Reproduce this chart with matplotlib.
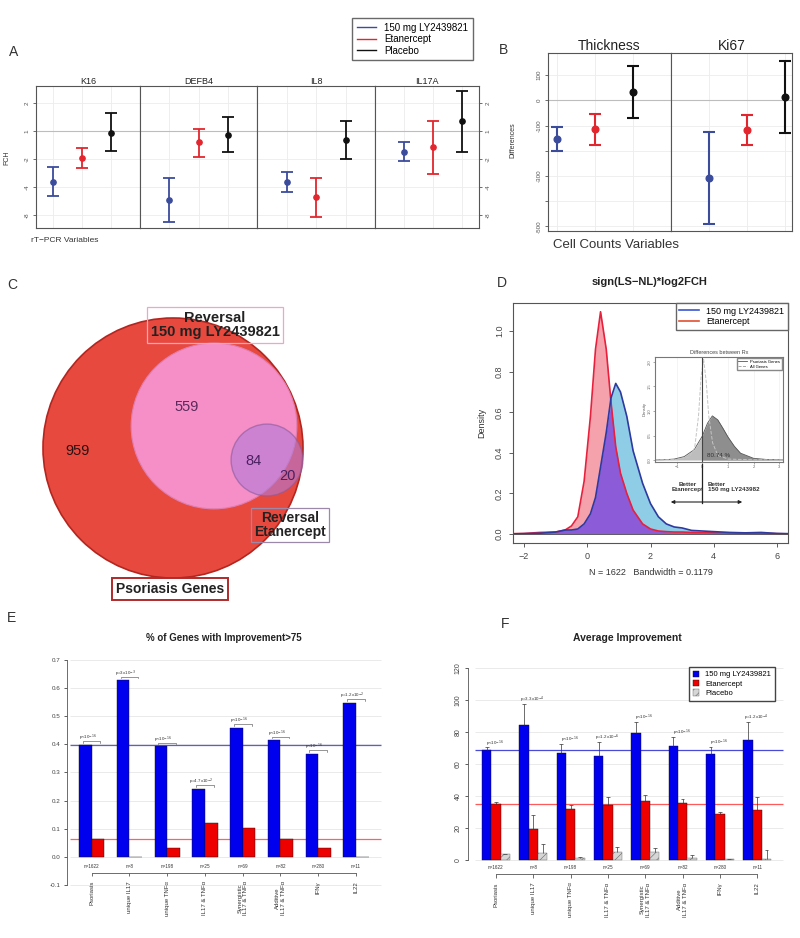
import numpy as np
import matplotlib.pyplot as plt
from matplotlib.patches import Circle, Patch, FancyArrowPatch
from matplotlib.lines import Line2D

plt.rcParams['font.family'] = ['Liberation Sans', 'DejaVu Sans']
plt.rcParams['hatch.linewidth'] = 0.4

# ---------------- data ----------------
treatments = ['150 mg LY2439821', 'Etanercept', 'Placebo']
trt_colors = ['#3b4c9c', '#e3262e', '#111111']

# A: rT-PCR (log2 scale)
pcr_genes = ['K16', 'DEFB4', 'IL8', 'IL17A']
pcr_est = [[-1.82, -0.96, -0.07], [-2.46, -0.39, -0.14], [-1.82, -2.36, -0.32], [-0.75, -0.57, 0.36]]
pcr_lo = [[-2.32, -1.32, -0.71], [-3.25, -0.93, -0.75], [-2.18, -3.07, -1.00], [-1.07, -1.54, -0.75]]
pcr_hi = [[-1.29, -0.61, 0.64], [-1.68, 0.07, 0.50], [-1.46, -1.68, 0.36], [-0.39, 0.36, 1.43]]
fch_ticks = [1, 0, -1, -2, -3]
fch_labels = ['2', '1', '-2', '-4', '-8']

# B: cell counts
cell_vars = ['Thickness', 'Ki67']
cell_est = [[-154, -115, 33], [-310, -117, 13]]
cell_lo = [[-201, -177, -69], [-493, -176, -128]]
cell_hi = [[-107, -55, 136], [-125, -58, 156]]
cell_ticks = [100, 0, -100, -200, -300, -400, -500]
cell_labels = ['100', '0', '-100', '', '-300', '', '-500']

# C: venn counts (psoriasis only, LY only, both, etanercept only)
venn_counts = [959, 559, 84, 20]

# D: densities
dens_x = [-2.3, -2.0, -1.5, -1.0, -0.7, -0.5, -0.3, -0.1, 0.1, 0.26, 0.42, 0.6, 0.75, 0.9, 1.05,
          1.25, 1.45, 1.75, 2.0, 2.25, 2.5, 2.75, 3.0, 3.3, 4.0, 4.5, 5.0, 5.5, 6.0, 6.35]
dens_eta = [0.002, 0.003, 0.008, 0.01, 0.02, 0.04, 0.085, 0.26, 0.58, 0.91, 1.095, 0.91, 0.65, 0.43, 0.30,
            0.20, 0.118, 0.05, 0.025, 0.015, 0.012, 0.01, 0.01, 0.008, 0.006, 0.005, 0.004, 0.004, 0.002, 0.001]
dens_ly = [0.001, 0.002, 0.004, 0.01, 0.02, 0.02, 0.025, 0.05, 0.10, 0.18, 0.33, 0.50, 0.67, 0.742, 0.70,
           0.58, 0.41, 0.25, 0.15, 0.085, 0.05, 0.035, 0.03, 0.018, 0.012, 0.008, 0.006, 0.008, 0.003, 0.002]

# D inset: differences between Rx
diff_x = [-1.85, -1.5, -1.1, -0.71, -0.32, 0.0, 0.2, 0.39, 0.6, 0.8, 1.0, 1.25, 1.49, 2.0, 2.5, 3.0, 3.15]
diff_psor = [0.002, 0.006, 0.02, 0.07, 0.21, 0.49, 0.75, 0.9, 0.82, 0.65, 0.47, 0.28, 0.14, 0.035, 0.012, 0.005, 0.003]
all_x = [-1.85, -1.0, -0.5, -0.3, -0.15, -0.05, 0.05, 0.15, 0.25, 0.4, 0.6, 1.0, 2.0, 3.15]
diff_all = [0.001, 0.01, 0.06, 0.25, 0.9, 1.7, 2.05, 1.6, 0.9, 0.35, 0.1, 0.02, 0.005, 0.001]

# E / F
gene_sets = ['Psoriasis', 'unique IL17', 'unique TNFα', 'IL17 & TNFα', 'Synergistic\nIL17 & TNFα',
             'Additive\nIL17 & TNFα', 'IFNγ', 'IL22']
set_n = [1622, 8, 198, 25, 69, 82, 280, 11]
pct75_ly = [0.398, 0.626, 0.392, 0.241, 0.459, 0.414, 0.366, 0.546]
pct75_eta = [0.065, 0.0, 0.033, 0.12, 0.103, 0.065, 0.033, 0.0]
pvals_e = ['p<10$^{-16}$', 'p=3x10$^{-3}$', 'p<10$^{-16}$', 'p=4.7x10$^{-2}$', 'p<10$^{-16}$',
           'p<10$^{-16}$', 'p<10$^{-16}$', 'p=1.2x10$^{-2}$']
avg_ly = [68.8, 84.4, 67.0, 64.9, 79.4, 70.9, 66.3, 75.0]
avg_ly_err = [1.5, 13.0, 5.5, 8.7, 6.6, 5.8, 4.2, 11.4]
avg_eta = [35.2, 19.1, 31.9, 34.4, 36.9, 35.6, 28.6, 31.1]
avg_eta_err = [0.8, 8.9, 2.3, 5.0, 3.5, 2.7, 1.4, 8.3]
avg_pbo = [3.5, 4.1, 1.0, 4.8, 5.2, 1.0, 0.4, 0.4]
avg_pbo_err = [0.5, 5.6, 0.8, 3.5, 2.1, 2.1, 0.5, 5.8]
pvals_f = ['p<10$^{-16}$', 'p=3.3x10$^{-4}$', 'p<10$^{-16}$', 'p=1.2x10$^{-6}$', 'p<10$^{-16}$',
           'p<10$^{-16}$', 'p<10$^{-16}$', 'p=1.2x10$^{-4}$']

# ---------------- figure ----------------
W, H = 800, 938
fig = plt.figure(figsize=(8, 9.38), dpi=100)


def fx(x):
    return x / W


def fy(y):
    return 1 - y / H


def px_axes(x0, y0, x1, y1):
    return fig.add_axes([x0 / W, 1 - y1 / H, (x1 - x0) / W, (y1 - y0) / H])


def panel_letter(x, y, s):
    fig.text(fx(x), fy(y), s, fontsize=10, color='#333333', va='center', ha='center')


def frame(ax, color='#555555'):
    for sp in ax.spines.values():
        sp.set_color(color)
        sp.set_linewidth(0.8)


# top legend
fig.legend(handles=[Line2D([], [], color=c, lw=1) for c in trt_colors], labels=treatments,
           loc='upper left', bbox_to_anchor=(fx(347), fy(13)), fontsize=7, frameon=True,
           fancybox=False, edgecolor='#444444', handlelength=2.0, borderpad=0.5, labelspacing=0.15)

# ---------------- A ----------------
panel_letter(14, 52, 'A')
a_bounds = [(36, 140, (0.43, 4.0)), (140, 257, (0, 4)), (257, 375, (0, 4)), (375, 479, (0, 3.57))]
for i, (x0, x1, xl) in enumerate(a_bounds):
    ax = px_axes(x0, 86, x1, 228)
    ax.set_xlim(*xl)
    ax.set_ylim(-3.46, 1.61)
    for p in (1, 2, 3):
        ax.axvline(p, color='#ebebeb', lw=0.6, zorder=0)
    for t in fch_ticks:
        ax.axhline(t, color='#ededed', lw=0.6, zorder=0)
    ax.axhline(0, color='#bdbdbd', lw=0.8, zorder=0)
    for j in range(3):
        e = pcr_est[i][j]
        ax.errorbar(j + 1, e, yerr=[[e - pcr_lo[i][j]], [pcr_hi[i][j] - e]], fmt='o', color=trt_colors[j],
                    ms=3.8, capsize=4, elinewidth=1.3, capthick=1.3)
    ax.set_xticks([])
    if i == 0 or i == 3:
        if i == 3:
            ax.yaxis.tick_right()
        ax.set_yticks(fch_ticks)
        ax.set_yticklabels(fch_labels, rotation=90, va='center', fontsize=4.5, color='#444444')
        ax.tick_params(axis='y', length=2.5, width=0.6, colors='#555555', pad=2)
    else:
        ax.set_yticks([])
    ax.set_title(pcr_genes[i], fontsize=6.5, pad=1.5, color='#222222')
    frame(ax)
fig.text(fx(7), fy(158), 'FCH', rotation=90, fontsize=5, va='center', ha='center', color='#333333')
fig.text(fx(31), fy(241), 'rT−PCR Variables', fontsize=6, va='center', color='#333333')

# ---------------- B ----------------
panel_letter(504, 50, 'B')
b_bounds = [(548, 671, (0.76, 4.0)), (671, 792, (0, 3.18))]
for i, (x0, x1, xl) in enumerate(b_bounds):
    ax = px_axes(x0, 53, x1, 231)
    ax.set_xlim(*xl)
    ax.set_ylim(-519, 188)
    for p in (1, 2, 3):
        ax.axvline(p, color='#ebebeb', lw=0.6, zorder=0)
    for t in cell_ticks:
        ax.axhline(t, color='#ededed', lw=0.6, zorder=0)
    ax.axhline(0, color='#bdbdbd', lw=0.8, zorder=0)
    for j in range(3):
        e = cell_est[i][j]
        ax.errorbar(j + 1, e, yerr=[[e - cell_lo[i][j]], [cell_hi[i][j] - e]], fmt='o', color=trt_colors[j],
                    ms=4.8, capsize=4, elinewidth=1.5, capthick=1.5)
    ax.set_xticks([])
    if i == 0:
        ax.set_yticks(cell_ticks)
        ax.set_yticklabels(cell_labels, rotation=90, va='center', fontsize=4.5, color='#444444')
        ax.tick_params(axis='y', length=2.5, width=0.6, colors='#555555', pad=2)
    else:
        ax.set_yticks([])
    ax.set_title(cell_vars[i], fontsize=10, pad=1.5, color='#222222')
    frame(ax)
fig.text(fx(513), fy(140), 'Differences', rotation=90, fontsize=5, va='center', ha='center', color='#333333')
fig.text(fx(616), fy(245), 'Cell Counts Variables', fontsize=9.5, va='center', ha='center', color='#333333')

# ---------------- C ----------------
panel_letter(12, 285, 'C')
axc = px_axes(0, 255, 400, 610)
axc.set_xlim(0, 400)
axc.set_ylim(610, 255)
axc.axis('off')
n_psor = sum(venn_counts)
n_ly = venn_counts[1] + venn_counts[2]
n_eta = venn_counts[2] + venn_counts[3]
r_big = 130
axc.add_patch(Circle((173, 448), r_big, fc='#e8493f', ec='#b3261f', lw=1.2))
axc.add_patch(Circle((214, 426), r_big * np.sqrt(n_ly / n_psor) + 1, fc='#f68fc8', ec='#de7fb0', lw=0.8))
axc.add_patch(Circle((267, 460), r_big * np.sqrt(n_eta / n_psor) + 3, fc='#b07ad8', alpha=0.6, ec='#8a5a9a', lw=1.0))
axc.text(78, 451, str(venn_counts[0]), fontsize=10.5, ha='center', va='center', color='#2a1010')
axc.text(187, 407, str(venn_counts[1]), fontsize=10.5, ha='center', va='center', color='#5a2a5a')
axc.text(254, 461, str(venn_counts[2]), fontsize=10.5, ha='center', va='center', color='#4a2060')
axc.text(287, 476, str(venn_counts[3]), fontsize=10.5, ha='center', va='center', color='#4a2060')
axc.text(215, 325, 'Reversal\n150 mg LY2439821', fontsize=10.5, fontweight='bold', ha='center', va='center',
         linespacing=1.0, color='#222222',
         bbox=dict(boxstyle='square,pad=0.25', fc='none', ec='#eaa7c8', lw=0.9))
axc.text(290, 525, 'Reversal\nEtanercept', fontsize=10, fontweight='bold', ha='center', va='center',
         linespacing=1.0, color='#222222',
         bbox=dict(boxstyle='square,pad=0.2', fc='none', ec='#9c88a8', lw=0.9))
axc.text(170, 589, 'Psoriasis Genes', fontsize=10, fontweight='bold', ha='center', va='center',
         color='#222222', bbox=dict(boxstyle='square,pad=0.3', fc='white', ec='#b02a2a', lw=1.4))

# ---------------- D ----------------
panel_letter(502, 283, 'D')
axd = px_axes(513, 303, 788, 543)
axd.set_xlim(-2.35, 6.35)
axd.set_ylim(-0.044, 1.138)
axd.fill_between(dens_x, dens_eta, color='#f6a2ac', lw=0)
axd.fill_between(dens_x, dens_ly, color='#8fcde6', lw=0)
axd.fill_between(dens_x, np.minimum(dens_eta, dens_ly), color='#8b5bd8', lw=0)
axd.plot(dens_x, dens_eta, color='#e8203c', lw=1.2)
axd.plot(dens_x, dens_ly, color='#2e3aa0', lw=1.2)
axd.axhline(0, color='#555555', lw=0.6)
axd.set_xticks([-2, 0, 2, 4, 6])
axd.set_yticks([0, 0.2, 0.4, 0.6, 0.8, 1.0])
axd.set_yticklabels(['0.0', '0.2', '0.4', '0.6', '0.8', '1.0'], rotation=90, va='center')
axd.tick_params(labelsize=6.5, length=3, width=0.6, colors='#444444')
axd.set_xlabel('N = 1622   Bandwidth = 0.1179', fontsize=6.5, color='#333333', labelpad=5)
axd.set_ylabel('Density', fontsize=6.5, color='#333333', labelpad=6)
frame(axd)
axd.legend(handles=[Line2D([], [], color='#3a55d0', lw=1.2), Line2D([], [], color='#e05030', lw=1.2)],
           labels=['150 mg LY2439821', 'Etanercept'], loc='upper right', borderaxespad=0, fontsize=6.5,
           fancybox=False, edgecolor='#666666', handlelength=2.2, labelspacing=0.15, framealpha=1)
fig.text(fx(650), fy(282), 'sign(LS−NL)*log2FCH', fontsize=8, fontweight='bold', ha='center', va='center',
         color='#222222')

# inset
axi = px_axes(655, 357, 783, 462)
axi.set_xlim(-1.85, 3.15)
axi.set_ylim(-0.04, 2.1)
axi.fill_between(diff_x, diff_psor, color='#bdbdbd', lw=0)
axi.fill_between(diff_x, diff_psor, where=np.array(diff_x) >= 0, color='#8e8e8e', lw=0)
axi.plot(diff_x, diff_psor, color='#555555', lw=0.6)
axi.plot(all_x, diff_all, color='#c4c4c4', lw=0.7, ls='--')
axi.axvline(0, color='#444444', lw=0.8)
for t in (-1, 1, 2, 3):
    axi.axvline(t, color='#f0f0f0', lw=0.5, zorder=0)
axi.set_xticks([-1, 0, 1, 2, 3])
axi.set_yticks([0, 0.5, 1.0, 1.5, 2.0])
axi.set_yticklabels(['0.0', '0.5', '1.0', '1.5', '2.0'], rotation=90, va='center')
axi.tick_params(labelsize=3, length=1.5, width=0.4, pad=1, colors='#666666')
axi.set_title('Differences between Rx', fontsize=4, pad=2, color='#444444')
axi.set_ylabel('Density', fontsize=3, labelpad=1, color='#555555')
axi.text(0.62, 0.1, '80.74 %', fontsize=4.5, ha='center', va='center', color='#333333')
frame(axi, '#777777')
axi.legend(handles=[Line2D([], [], color='#555555', lw=0.6), Line2D([], [], color='#999999', lw=0.6, ls='--')],
           labels=['Psoriasis Genes', 'All Genes'], loc='upper right', fontsize=3, fancybox=False,
           edgecolor='#888888', handlelength=2.0, borderaxespad=0.3, labelspacing=0.2, framealpha=1)
fig.text(fx(688), fy(487), 'Better\nEtanercept', fontsize=4.5, fontweight='bold', ha='center', va='center',
         color='#333333')
fig.text(fx(708), fy(487), 'Better\n150 mg LY243982', fontsize=4.5, fontweight='bold', ha='left', va='center',
         color='#333333')
fig.add_artist(Line2D([fx(702), fx(702)], [fy(464), fy(503)], color='#222222', lw=0.9,
                      transform=fig.transFigure))
fig.add_artist(FancyArrowPatch((fx(668), fy(502)), (fx(745), fy(502)), arrowstyle='<|-|>', mutation_scale=5,
                               color='#222222', lw=0.8, transform=fig.transFigure))

# ---------------- E ----------------
panel_letter(12, 618, 'E')
axe = px_axes(67, 650, 385, 890)
axe.set_xlim(0.045, 25.3)
axe.set_ylim(-0.117, 0.734)
e_ticks = [-0.1, 0.0, 0.1, 0.2, 0.3, 0.4, 0.5, 0.6, 0.7]
axe.hlines(e_ticks, 0.3, 25, color='#e6e6e6', lw=0.6, zorder=0)
xb = [1 + 3 * i for i in range(8)]
axe.bar(xb, pct75_ly, width=1, align='edge', color='#0000ee', ec='#111111', lw=0.3, zorder=2)
axe.bar([x + 1 for x in xb], pct75_eta, width=1, align='edge', color='#ee0000', ec='#111111', lw=0.3, zorder=2)
axe.hlines(pct75_ly[0], 0.3, 25, color='#5c5cd8', lw=0.9, zorder=1)
axe.hlines(pct75_eta[0], 0.3, 25, color='#ff6060', lw=0.9, zorder=1)
for sp in ('top', 'right', 'bottom'):
    axe.spines[sp].set_visible(False)
axe.spines['left'].set_bounds(-0.1, 0.7)
axe.spines['left'].set_color('#555555')
axe.spines['left'].set_linewidth(0.6)
axe.set_xticks([])
axe.set_yticks(e_ticks)
axe.set_yticklabels(['%.1f' % t for t in e_ticks])
axe.tick_params(axis='y', labelsize=4.5, length=2.5, width=0.6, colors='#444444', pad=2)
for i in range(8):
    c = xb[i] + 1
    axe.text(c, -0.032, 'n=%d' % set_n[i], fontsize=3.3, ha='center', va='center', color='#333333')
    axe.vlines(c, -0.057, -0.068, color='#555555', lw=0.6, clip_on=False)
    axe.text(c, -0.085, gene_sets[i], rotation=90, fontsize=4.3, ha='center', va='top', multialignment='center',
             color='#333333')
    top = pct75_ly[i]
    axe.plot([xb[i] + 0.3, xb[i] + 0.3, xb[i] + 1.7, xb[i] + 1.7], [top + 0.007, top + 0.013, top + 0.013, top + 0.007],
             color='#444444', lw=0.4)
    axe.text(c - 0.3, top + 0.024, pvals_e[i], fontsize=3.2, ha='center', va='center', color='#333333')
axe.plot([xb[0] + 1, xb[-1] + 1], [-0.057, -0.057], color='#555555', lw=0.6, clip_on=False)
fig.text(fx(224), fy(638), '% of Genes with Improvement>75', fontsize=7, fontweight='bold', ha='center',
         va='center', color='#222222')

# ---------------- F ----------------
panel_letter(505, 624, 'F')
axf = px_axes(468, 655, 785, 890)
axf.set_xlim(-0.5, 33.47)
axf.set_ylim(-18.75, 128)
f_ticks = [0, 20, 40, 60, 80, 100, 120]
axf.hlines(f_ticks, 0.3, 33.3, color='#e6e6e6', lw=0.6, zorder=0)
xf = [1 + 4 * i for i in range(8)]
series = [(avg_ly, avg_ly_err, dict(color='#0000ee', ec='#111111')),
          (avg_eta, avg_eta_err, dict(color='#ee0000', ec='#111111')),
          (avg_pbo, avg_pbo_err, dict(color='#d6d6d6', ec='#666666', hatch='////'))]
for k, (vals, errs, style) in enumerate(series):
    xs = [x + k for x in xf]
    axf.bar(xs, vals, width=1, align='edge', lw=0.3, zorder=2, **style)
    for x, v, e in zip(xs, vals, errs):
        axf.vlines(x + 0.5, v, v + e, color='#333333', lw=0.5, zorder=3)
        axf.hlines(v + e, x + 0.3, x + 0.7, color='#333333', lw=0.5, zorder=3)
axf.hlines(avg_ly[0], 0.3, 33.3, color='#4a4ad8', lw=0.9, zorder=1)
axf.hlines(avg_eta[0], 0.3, 33.3, color='#ff5a5a', lw=0.9, zorder=1)
for sp in ('top', 'right', 'bottom'):
    axf.spines[sp].set_visible(False)
axf.spines['left'].set_bounds(0, 120)
axf.spines['left'].set_color('#555555')
axf.spines['left'].set_linewidth(0.6)
axf.set_xticks([])
axf.set_yticks(f_ticks)
axf.set_yticklabels([str(t) for t in f_ticks], rotation=90, va='center')
axf.tick_params(axis='y', labelsize=5, length=2.5, width=0.6, colors='#444444', pad=2)
for i in range(8):
    c = xf[i] + 1.5
    axf.text(c, -5, 'n=%d' % set_n[i], fontsize=3.3, ha='center', va='center', color='#333333')
    axf.vlines(c, -8.75, -11, color='#555555', lw=0.6, clip_on=False)
    axf.text(c, -14, gene_sets[i], rotation=90, fontsize=4.3, ha='center', va='top', multialignment='center',
             color='#333333')
    axf.text(xf[i] + 1.4, avg_ly[i] + avg_ly_err[i] + 2.5, pvals_f[i], fontsize=3.2, ha='center', va='center',
             color='#333333')
axf.plot([xf[0] + 1.5, xf[-1] + 1.5], [-8.75, -8.75], color='#555555', lw=0.6, clip_on=False)
axf.legend(handles=[Patch(fc='#0000ee', ec='#111111', lw=0.3), Patch(fc='#ee0000', ec='#111111', lw=0.3),
                    Patch(fc='#d6d6d6', ec='#666666', hatch='////', lw=0.3)],
           labels=treatments, loc='upper right', bbox_to_anchor=(fx(779), fy(663)),
           bbox_transform=fig.transFigure, fontsize=5.5, fancybox=False, edgecolor='#444444',
           handlelength=0.9, handleheight=0.9, labelspacing=0.2, framealpha=1, borderpad=0.5)
fig.text(fx(627), fy(638), 'Average Improvement', fontsize=7.5, fontweight='bold', ha='center', va='center',
         color='#222222')

fig.savefig('out.png', dpi=100)
